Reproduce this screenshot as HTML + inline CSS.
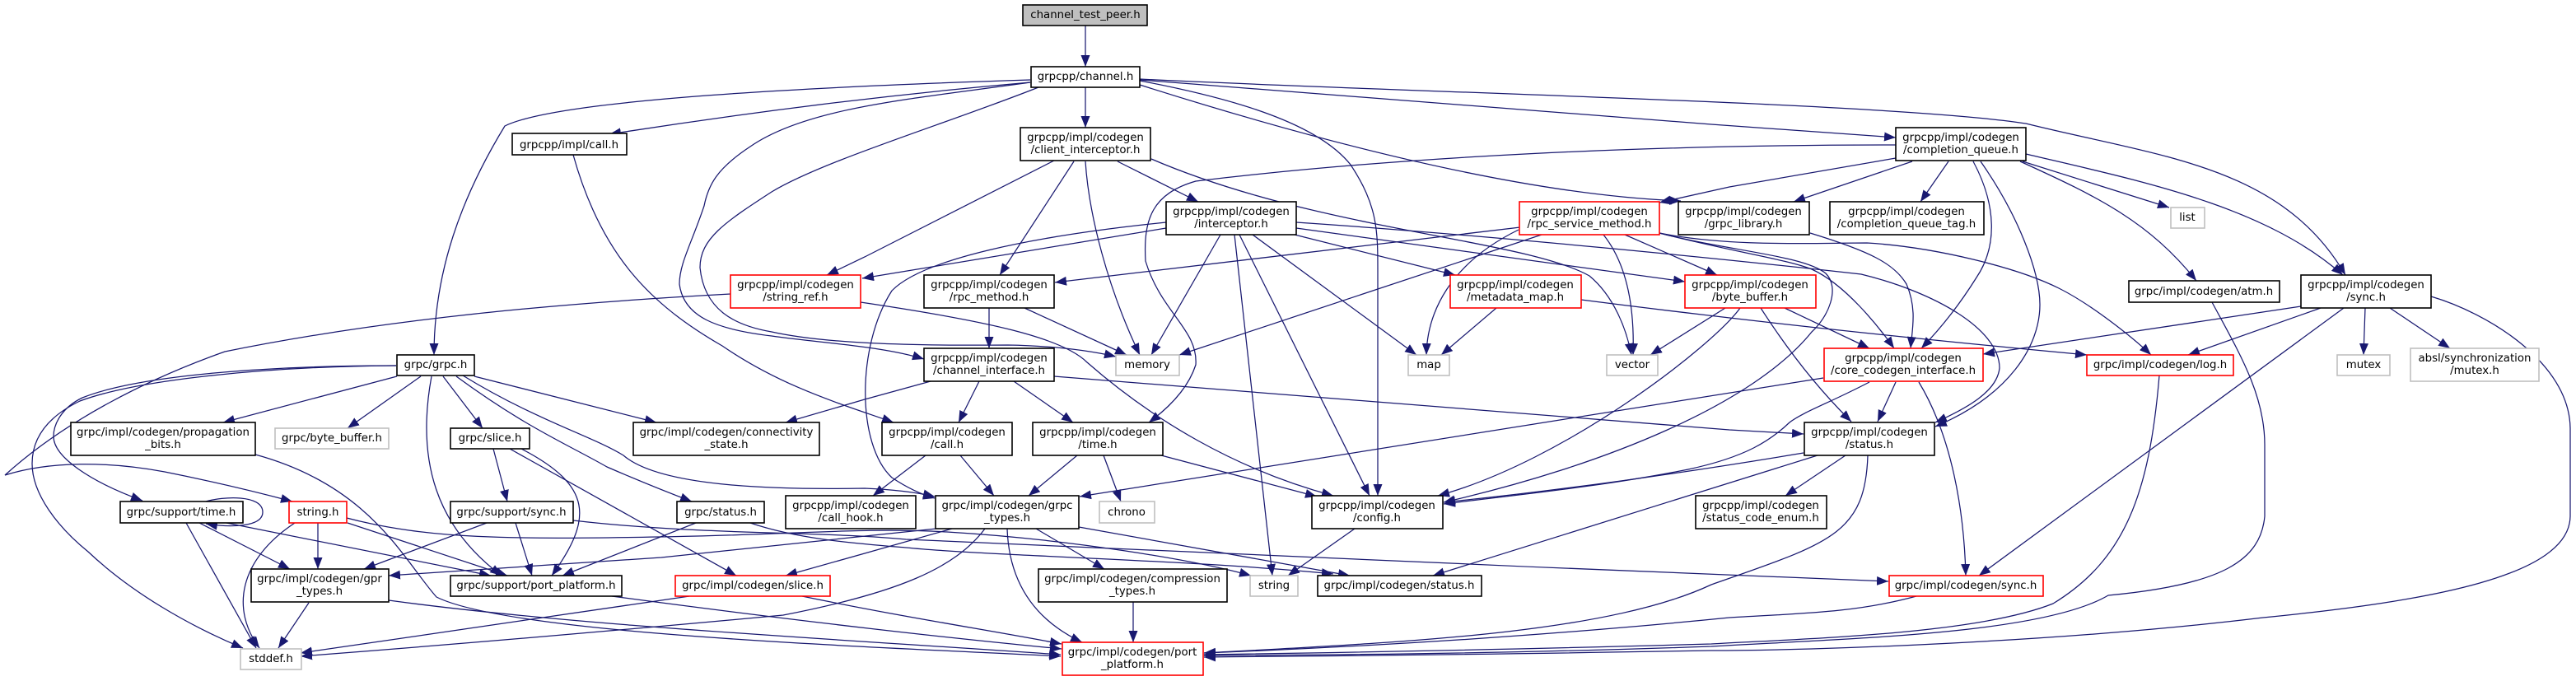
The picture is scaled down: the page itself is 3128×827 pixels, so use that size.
<!DOCTYPE html>
<html><head><meta charset="utf-8"><style>
html,body{margin:0;padding:0;background:#fff;width:3128px;height:827px;overflow:hidden}
svg{display:block}
.e path{fill:none;stroke:#191970;stroke-width:1.25;marker-end:url(#a)}
.n rect{fill:#fff;stroke:#000;stroke-width:1.6}
.n rect.r{stroke:#f00}
.n rect.g{stroke:#bfbfbf}
.n rect.o{fill:#bfbfbf}
text{font-family:"DejaVu Sans",sans-serif;font-size:13.33px;text-anchor:middle;fill:#000}
</style></head><body>
<svg width="3128" height="827" viewBox="0 0 3128 827" xmlns="http://www.w3.org/2000/svg">
<defs><marker id="a" markerUnits="userSpaceOnUse" markerWidth="15" markerHeight="12" refX="14" refY="5.5" orient="auto"><path d="M0 0L14 5.5L0 11z" fill="#191970"/></marker></defs>
<g class="e">
<path d="M1318 31L1318 81"/>
<path d="M1251 97C1000 105,680 120,613 153C560 240,527 330,527 431"/>
<path d="M1251 100Q1000 122,740 163"/>
<path d="M1251 100C1110 120,980 130,911 178C870 205,860 225,855 250C840 295,825 320,825 345C830 385,870 400,937 408C1000 417,1070 420,1122 436"/>
<path d="M1261 106C1150 150,1000 195,937 233C880 270,850 290,850 325C855 375,890 395,937 403C1000 417,1100 420,1224 419C1280 420,1320 425,1355 433"/>
<path d="M1318 106L1318 155"/>
<path d="M1384 97Q1750 125,2078 151Q2200 160,2302 167"/>
<path d="M1384 96C1700 112,2300 125,2460 150C2620 190,2770 200,2848 334"/>
<path d="M1384 98C1500 120,1600 150,1640 200C1673 250,1673 280,1673 330L1673 602"/>
<path d="M1384 103Q1800 235,2041 244"/>
<path d="M1280 195L1050 312L1004 334"/>
<path d="M1304 196L1214 334"/>
<path d="M1318 196C1322 260,1345 350,1384 431"/>
<path d="M1357 196L1455 245"/>
<path d="M1398 193C1600 280,1850 290,1930 335C1960 360,1975 400,1981 431"/>
<path d="M2302 176C2000 176,1700 190,1452 220C1400 235,1388 265,1391 317C1410 380,1455 400,1452 443Q1440 480,1395 513"/>
<path d="M2302 192L2100 227L2015 246"/>
<path d="M2322 196L2178 245"/>
<path d="M2366 196L2332 245"/>
<path d="M2396 196C2425 250,2425 300,2400 337Q2370 385,2333 423"/>
<path d="M2405 196C2450 260,2477 330,2477 370C2477 420,2440 480,2350 518"/>
<path d="M2453 196C2550 240,2610 270,2667 341"/>
<path d="M2456 196L2634 252"/>
<path d="M2460 187C2600 220,2750 250,2845 334"/>
<path d="M1416 277L1047 338"/>
<path d="M1416 270C1250 287,1120 315,1083 353C1040 420,1040 540,1083 580Q1110 598,1135 605"/>
<path d="M1482 285L1398 431"/>
<path d="M1499 285L1545 699"/>
<path d="M1505 285L1663 602"/>
<path d="M1521 285L1720 431"/>
<path d="M1572 285L1767 334"/>
<path d="M1574 277L2046 342"/>
<path d="M1574 270C1800 285,2100 315,2260 333C2350 355,2428 400,2428 447C2425 475,2390 495,2350 513"/>
<path d="M1846 276L1281 343"/>
<path d="M1844 279C1760 320,1733 380,1732 431"/>
<path d="M1872 285L1432 431"/>
<path d="M1947 285C1975 320,1985 370,1983 431"/>
<path d="M1973 285L2085 334"/>
<path d="M2015 283C2100 300,2200 295,2267 295C2350 300,2450 325,2500 350C2540 370,2590 410,2612 431"/>
<path d="M2015 283C2100 305,2190 310,2217 332C2235 350,2220 385,2200 403C2130 490,1950 565,1753 610"/>
<path d="M2015 283C2100 305,2170 315,2200 327C2240 345,2280 395,2300 423"/>
<path d="M2198 283C2270 305,2300 320,2315 345C2328 375,2322 400,2320 423"/>
<path d="M1920 364Q2200 400,2534 431"/>
<path d="M1817 374L1750 431"/>
<path d="M2095 374L2004 431"/>
<path d="M2167 374L2270 423"/>
<path d="M2113 374C2080 420,1900 560,1746 602"/>
<path d="M2138 374Q2190 455,2248 512"/>
<path d="M2302 464L2280 512"/>
<path d="M2330 464C2370 530,2385 620,2387 699"/>
<path d="M2214 459L1311 603"/>
<path d="M2270 464C2220 490,2190 500,2173 513C2150 535,2120 555,2050 570C1950 590,1850 600,1753 612"/>
<path d="M2190 550Q1950 590,1753 610"/>
<path d="M2207 553L1740 699"/>
<path d="M2241 553L2168 602"/>
<path d="M2268 553C2265 650,2220 660,2078 710C1950 770,1700 780,1462 793"/>
<path d="M2794 372L2408 430"/>
<path d="M2818 374L2657 431"/>
<path d="M2846 374L2403 699"/>
<path d="M2872 374L2870 431"/>
<path d="M2902 374L2975 423"/>
<path d="M2952 360C3020 380,3120 440,3121 520L3121 627C3120 700,2950 730,2748 750C2500 780,2200 790,2078 790Q1800 795,1462 798"/>
<path d="M2686 367C2720 430,2750 480,2750 540L2750 627C2745 680,2700 710,2560 723C2480 770,2250 775,2078 785Q1800 795,1462 796"/>
<path d="M2622 456C2610 600,2580 680,2493 733C2400 770,2200 775,2078 782Q1800 790,1462 795"/>
<path d="M2327 724C2250 745,2180 745,2100 750Q1800 780,1462 793"/>
<path d="M1201 374L1201 423"/>
<path d="M1244 374L1368 431"/>
<path d="M1045 367C1200 390,1290 410,1320 440C1400 510,1500 570,1619 602"/>
<path d="M887 357C700 367,480 385,273 427C180 460,80 510,6 577C60 560,130 560,200 573C260 585,310 597,355 609"/>
<path d="M482 457L271 513"/>
<path d="M511 457L422 520"/>
<path d="M524 457C505 560,530 640,609 699"/>
<path d="M538 457L586 520"/>
<path d="M554 457C640 520,690 540,737 567Q790 590,840 609"/>
<path d="M562 456C650 510,720 530,757 553C800 590,930 595,1050 593Q1100 595,1135 603"/>
<path d="M576 457L797 513"/>
<path d="M1130 463L1050 485L954 513"/>
<path d="M1189 463L1164 513"/>
<path d="M1231 463L1303 513"/>
<path d="M1280 457L2100 522L2190 527"/>
<path d="M696 188C730 310,790 370,877 420C950 470,1020 490,1085 513"/>
<path d="M1124 553L1060 602"/>
<path d="M1166 553L1207 602"/>
<path d="M1308 553L1249 602"/>
<path d="M1340 553L1361 609"/>
<path d="M1410 553L1599 603"/>
<path d="M1645 642L1564 699"/>
<path d="M1137 642L803 677L472 699"/>
<path d="M1156 642L1050 672L954 699"/>
<path d="M1196 642C1160 690,1090 720,951 747Q650 775,365 797"/>
<path d="M1223 642C1225 700,1250 750,1314 780"/>
<path d="M1258 642L1341 691"/>
<path d="M1310 640L1639 699"/>
<path d="M911 635C970 655,1040 660,1100 665C1200 675,1450 680,1619 697"/>
<path d="M421 629C520 655,620 655,800 652C950 650,1050 640,1150 646C1300 655,1450 680,1519 699"/>
<path d="M696 632C850 650,1000 645,1100 655C1400 670,1900 690,2293 706"/>
<path d="M375 732L338 787"/>
<path d="M472 729C700 760,1000 775,1288 795"/>
<path d="M743 724C900 745,1100 770,1289 788"/>
<path d="M310 552C450 590,490 680,530 725C620 770,1050 785,1288 797"/>
<path d="M837 724L365 793"/>
<path d="M974 724C1100 750,1200 765,1289 782"/>
<path d="M1376 731L1376 780"/>
<path d="M250 609C270 603,319 600,319 622C319 640,280 641,250 636"/>
<path d="M226 635L311 787"/>
<path d="M242 635L352 691"/>
<path d="M275 635L596 699"/>
<path d="M386 635L386 691"/>
<path d="M358 635C290 680,280 740,315 787"/>
<path d="M422 635L616 699"/>
<path d="M591 635L442 691"/>
<path d="M626 635L646 699"/>
<path d="M599 545L616 609"/>
<path d="M633 545C720 590,720 630,670 699"/>
<path d="M619 545L894 699"/>
<path d="M845 635L683 699"/>
<path d="M481 444C330 445,170 460,97 487C60 505,39 530,39 563C39 600,70 640,107 670C160 720,230 760,295 787"/>
<path d="M481 444C330 444,170 455,100 483C75 495,65 515,65 530C65 555,110 585,173 608"/>
</g>
<g class="n">
<rect class="o" x="1242" y="6" width="151" height="25"/><text x="1318" y="22">channel_test_peer.h</text>
<rect x="1252" y="81" width="132" height="25"/><text x="1318" y="97">grpcpp/channel.h</text>
<rect x="622" y="162" width="139" height="26"/><text x="691" y="180">grpcpp/impl/call.h</text>
<rect x="1239" y="155" width="158" height="40"/><text x="1318" y="171">grpcpp/impl/codegen</text><text x="1318" y="186">/client_interceptor.h</text>
<rect x="2302" y="155" width="158" height="40"/><text x="2381" y="171">grpcpp/impl/codegen</text><text x="2381" y="186">/completion_queue.h</text>
<rect x="1416" y="245" width="158" height="40"/><text x="1495" y="261">grpcpp/impl/codegen</text><text x="1495" y="276">/interceptor.h</text>
<rect class="r" x="1845" y="245" width="170" height="40"/><text x="1930" y="261">grpcpp/impl/codegen</text><text x="1930" y="276">/rpc_service_method.h</text>
<rect x="2038" y="245" width="159" height="40"/><text x="2117" y="261">grpcpp/impl/codegen</text><text x="2117" y="276">/grpc_library.h</text>
<rect x="2222" y="245" width="187" height="40"/><text x="2315" y="261">grpcpp/impl/codegen</text><text x="2315" y="276">/completion_queue_tag.h</text>
<rect class="g" x="2636" y="252" width="41" height="25"/><text x="2656" y="268">list</text>
<rect class="r" x="887" y="334" width="158" height="40"/><text x="966" y="350">grpcpp/impl/codegen</text><text x="966" y="365">/string_ref.h</text>
<rect x="1122" y="334" width="158" height="40"/><text x="1201" y="350">grpcpp/impl/codegen</text><text x="1201" y="365">/rpc_method.h</text>
<rect class="r" x="1761" y="334" width="159" height="40"/><text x="1840" y="350">grpcpp/impl/codegen</text><text x="1840" y="365">/metadata_map.h</text>
<rect class="r" x="2046" y="334" width="159" height="40"/><text x="2125" y="350">grpcpp/impl/codegen</text><text x="2125" y="365">/byte_buffer.h</text>
<rect x="2585" y="341" width="183" height="26"/><text x="2676" y="358">grpc/impl/codegen/atm.h</text>
<rect x="2794" y="334" width="158" height="40"/><text x="2873" y="350">grpcpp/impl/codegen</text><text x="2873" y="365">/sync.h</text>
<rect x="1122" y="423" width="158" height="40"/><text x="1201" y="439">grpcpp/impl/codegen</text><text x="1201" y="454">/channel_interface.h</text>
<rect class="g" x="1355" y="431" width="77" height="25"/><text x="1393" y="447">memory</text>
<rect class="g" x="1710" y="431" width="50" height="25"/><text x="1735" y="447">map</text>
<rect class="g" x="1951" y="431" width="62" height="25"/><text x="1982" y="447">vector</text>
<rect class="r" x="2215" y="423" width="193" height="40"/><text x="2311" y="439">grpcpp/impl/codegen</text><text x="2311" y="454">/core_codegen_interface.h</text>
<rect class="r" x="2534" y="431" width="178" height="25"/><text x="2623" y="447">grpc/impl/codegen/log.h</text>
<rect class="g" x="2838" y="431" width="64" height="25"/><text x="2870" y="447">mutex</text>
<rect class="g" x="2927" y="423" width="156" height="40"/><text x="3005" y="439">absl/synchronization</text><text x="3005" y="454">/mutex.h</text>
<rect x="482" y="431" width="94" height="25"/><text x="529" y="447">grpc/grpc.h</text>
<rect x="86" y="513" width="224" height="40"/><text x="198" y="529">grpc/impl/codegen/propagation</text><text x="198" y="544">_bits.h</text>
<rect class="g" x="334" y="520" width="138" height="25"/><text x="403" y="536">grpc/byte_buffer.h</text>
<rect x="547" y="520" width="96" height="25"/><text x="595" y="536">grpc/slice.h</text>
<rect x="769" y="513" width="226" height="40"/><text x="882" y="529">grpc/impl/codegen/connectivity</text><text x="882" y="544">_state.h</text>
<rect x="1071" y="513" width="158" height="40"/><text x="1150" y="529">grpcpp/impl/codegen</text><text x="1150" y="544">/call.h</text>
<rect x="1254" y="513" width="158" height="40"/><text x="1333" y="529">grpcpp/impl/codegen</text><text x="1333" y="544">/time.h</text>
<rect x="2191" y="513" width="158" height="40"/><text x="2270" y="529">grpcpp/impl/codegen</text><text x="2270" y="544">/status.h</text>
<rect x="146" y="609" width="149" height="26"/><text x="220" y="626">grpc/support/time.h</text>
<rect class="r" x="351" y="609" width="70" height="26"/><text x="386" y="626">string.h</text>
<rect x="547" y="609" width="149" height="26"/><text x="621" y="626">grpc/support/sync.h</text>
<rect x="822" y="609" width="106" height="26"/><text x="875" y="626">grpc/status.h</text>
<rect x="954" y="602" width="158" height="40"/><text x="1033" y="618">grpcpp/impl/codegen</text><text x="1033" y="633">/call_hook.h</text>
<rect x="1136" y="602" width="174" height="40"/><text x="1223" y="618">grpc/impl/codegen/grpc</text><text x="1223" y="633">_types.h</text>
<rect class="g" x="1335" y="609" width="67" height="26"/><text x="1368" y="626">chrono</text>
<rect x="1593" y="602" width="159" height="40"/><text x="1672" y="618">grpcpp/impl/codegen</text><text x="1672" y="633">/config.h</text>
<rect x="2059" y="602" width="159" height="40"/><text x="2138" y="618">grpcpp/impl/codegen</text><text x="2138" y="633">/status_code_enum.h</text>
<rect x="305" y="691" width="167" height="40"/><text x="388" y="707">grpc/impl/codegen/gpr</text><text x="388" y="722">_types.h</text>
<rect x="547" y="699" width="208" height="25"/><text x="651" y="715">grpc/support/port_platform.h</text>
<rect class="r" x="820" y="699" width="188" height="25"/><text x="914" y="715">grpc/impl/codegen/slice.h</text>
<rect x="1261" y="691" width="229" height="40"/><text x="1375" y="707">grpc/impl/codegen/compression</text><text x="1375" y="722">_types.h</text>
<rect class="g" x="1518" y="699" width="58" height="25"/><text x="1547" y="715">string</text>
<rect x="1600" y="699" width="199" height="25"/><text x="1699" y="715">grpc/impl/codegen/status.h</text>
<rect class="r" x="2294" y="699" width="187" height="25"/><text x="2387" y="715">grpc/impl/codegen/sync.h</text>
<rect class="g" x="292" y="788" width="74" height="25"/><text x="329" y="804">stddef.h</text>
<rect class="r" x="1290" y="780" width="171" height="40"/><text x="1375" y="796">grpc/impl/codegen/port</text><text x="1375" y="811">_platform.h</text>
</g>
</svg>
</body></html>
